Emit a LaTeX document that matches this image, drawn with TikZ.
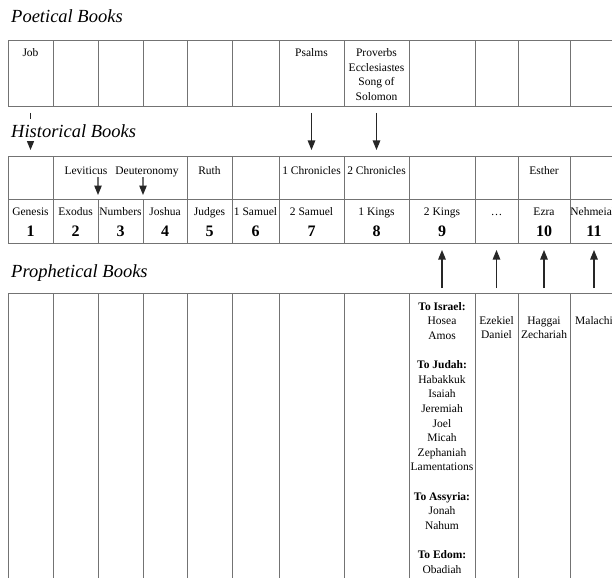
\documentclass[tikz,border=0pt]{standalone}
\usepackage{fontspec}
\setmainfont{Liberation Serif}
\usetikzlibrary{fit,calc,arrows.meta}
\definecolor{gridgray}{gray}{0.45}
\definecolor{arrgray}{gray}{0.15}
\newcommand\cellfont{\fontsize{11.5bp}{14.6bp}\selectfont}
\newcommand\numfont{\fontsize{16bp}{18bp}\selectfont\bfseries}
\newcommand\headfont{\fontsize{18.5bp}{22bp}\selectfont\itshape}
\begin{document}
\begin{tikzpicture}[x=1bp,y=-1bp,
  cell/.style={draw=gridgray,line width=1bp,inner sep=0pt,outer sep=0pt},
  txt/.style={font=\cellfont,inner sep=0pt,align=center},
  num/.style={font=\numfont,inner sep=0pt},
  head/.style={font=\headfont,inner sep=1bp,anchor=base west},
  arr/.style={draw=arrgray,line width=1.1bp,-{Triangle[width=7.5bp,length=9.5bp]}}]
\useasboundingbox (0,0) rectangle (612,578);
\clip (0,0) rectangle (612,578);
\fill[white] (0,0) rectangle (612,578);

% ---------- Poetical Books ----------
\node[head] (hpoet) at (10,23) {Poetical Books};
\foreach \i/\a/\b in {1/8/53,2/53/98,3/98/143,4/143/187,5/187/232,6/232/279,7/279/344,8/344/409,9/409/475,10/475/518,11/518/570,12/570/618}
  \node[cell,fit={(\a,41) (\b,107)}] (p\i) {};
\node[txt,anchor=base] (tjob) at (30.5,56.5) {Job};
\node[txt,anchor=base] (tpsa) at (311.5,56.5) {Psalms};
\node[txt,anchor=north] (tpro) at (376.5,48.6) {Proverbs\\Ecclesiastes\\Song of\\Solomon};

% ---------- Historical Books ----------
\foreach \i/\a/\b in {1/8/53,2/53/187,3/187/232,4/232/279,5/279/344,6/344/409,7/409/475,8/475/518,9/518/570,10/570/618}
  \node[cell,fit={(\a,157) (\b,199)}] (ht\i) {};
\foreach \i/\a/\b in {1/8/53,2/53/98,3/98/143,4/143/187,5/187/232,6/232/279,7/279/344,8/344/409,9/409/475,10/475/518,11/518/570,12/570/618}
  \node[cell,fit={(\a,199) (\b,243)}] (hb\i) {};

\draw[arr] ([yshift=-6bp]p1.south) -- ([yshift=7bp]ht1.north);
\draw[arr] ([yshift=-6bp]p7.south) -- ([yshift=7bp]ht5.north);
\draw[arr] ([yshift=-6bp]p8.south) -- ([yshift=7bp]ht6.north);
\node[head,fill=white,inner ysep=0pt,text height=19bp,text depth=3bp] (hhist) at (10,138) {Historical Books};

\node[txt,anchor=base] (tlev) at (86,175) {Leviticus};
\node[txt,anchor=base] (tdeu) at (147,175) {Deuteronomy};
\node[txt,anchor=base] (truth) at (209.5,175) {Ruth};
\node[txt,anchor=base] (tch1) at (311.5,175) {1 Chronicles};
\node[txt,anchor=base] (tch2) at (376.5,175) {2 Chronicles};
\node[txt,anchor=base] (test) at (544,175) {Esther};
\coordinate (levtop) at (98,177);
\coordinate (deutop) at (143,177);
\draw[arr] (levtop) -- ([yshift=4bp]hb2.north east);
\draw[arr] (deutop) -- ([yshift=4bp]hb3.north east);

\foreach \i/\n/\k in {1/Genesis/1,2/Exodus/2,3/Numbers/3,4/Joshua/4,5/Judges/5,6/1 Samuel/6,7/2 Samuel/7,8/1 Kings/8,9/2 Kings/9,10/\dots/,11/Ezra/10,12/Nehmeiah/11}{
  \node[txt,anchor=base] (bn\i) at ($(hb\i.north)+(0,16)$) {\n};
  \node[num,anchor=base] (bk\i) at ($(hb\i.north)+(0,37)$) {\k};
}

% ---------- Prophetical Books ----------
\node[head] (hproph) at (10,277) {Prophetical Books};
\foreach \i/\a/\b in {1/8/53,2/53/98,3/98/143,4/143/187,5/187/232,6/232/279,7/279/344,8/344/409,9/409/475,10/475/518,11/518/570,12/570/618}
  \node[cell,fit={(\a,293) (\b,600)}] (pr\i) {};
\foreach \i in {9,10,11,12}
  \draw[arr] ([yshift=5bp]pr\i.north) -- ([yshift=-7bp]hb\i.south);

\node[txt,anchor=north] (tp9) at (442,302.2) {\textbf{To Israel:}\\Hosea\\Amos\\[14.6bp]\textbf{To Judah:}\\Habakkuk\\Isaiah\\Jeremiah\\Joel\\Micah\\Zephaniah\\Lamentations\\[14.6bp]\textbf{To Assyria:}\\Jonah\\Nahum\\[14.6bp]\textbf{To Edom:}\\Obadiah};
\node[txt,anchor=north] (tp10) at (496.5,316.2) {Ezekiel\\Daniel};
\node[txt,anchor=north] (tp11) at (544,316.4) {Haggai\\Zechariah};
\node[txt,anchor=base] (tp12) at (594,324) {Malachi};
\end{tikzpicture}
\end{document}
